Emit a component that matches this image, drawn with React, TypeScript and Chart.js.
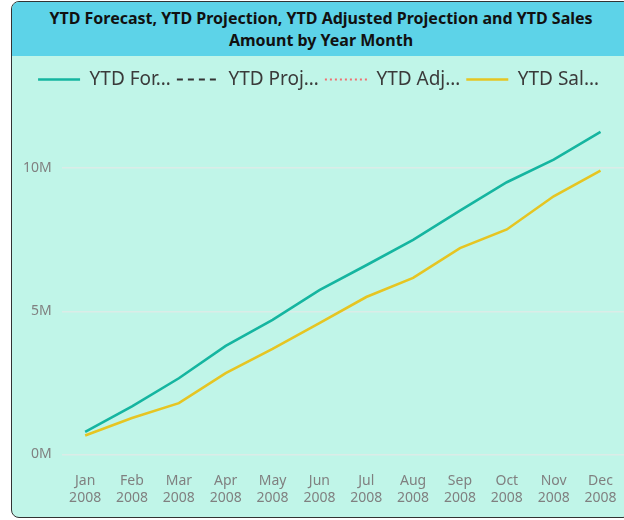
import React, { useEffect, useRef } from "react";
import { Chart, registerables } from "chart.js";

Chart.register(...registerables);

const months = ["Jan", "Feb", "Mar", "Apr", "May", "Jun", "Jul", "Aug", "Sep", "Oct", "Nov", "Dec"];
const year = "2008";
const ytdForecast = [0.79, 1.68, 2.66, 3.79, 4.7, 5.74, 6.61, 7.5, 8.52, 9.51, 10.3, 11.27];
const ytdProjection: (number | null)[] = [null, null, null, null, null, null, null, null, null, null, null, null];
const ytdAdjusted: (number | null)[] = [null, null, null, null, null, null, null, null, null, null, null, null];
const ytdSales = [0.66, 1.27, 1.79, 2.84, 3.69, 4.59, 5.5, 6.17, 7.21, 7.86, 9.02, 9.92];
const seriesNames = ["YTD Forecast", "YTD Projection", "YTD Adjusted Projection", "YTD Sales Amount"];
const legendLabels = ["YTD For…", "YTD Proj…", "YTD Adj…", "YTD Sal…"];
const yTicks = [0, 5, 10];

const FONT = "'Segoe UI', 'Noto Sans', 'Open Sans', sans-serif";

const legendMargin = {
  id: "legendMargin",
  beforeInit(chart: any) {
    const orig = chart.legend.fit;
    chart.legend.fit = function fit() {
      orig.bind(chart.legend)();
      this.height += 12;
    };
  },
};

export default function App() {
  const ref = useRef<HTMLCanvasElement | null>(null);
  useEffect(() => {
    if (!ref.current) return;
    const colors = ["#15b5a0", "#333333", "#f07070", "#e6c522"];
    const dashes = [[], [6, 5], [2, 3], []];
    const widths = [2.6, 2, 2, 2.6];
    const datas = [ytdForecast, ytdProjection, ytdAdjusted, ytdSales];
    const chart = new Chart(ref.current, {
      type: "line",
      data: {
        labels: months.map((m) => [m, year]),
        datasets: datas.map((d, i) => ({
          label: seriesNames[i],
          data: d,
          borderColor: colors[i],
          backgroundColor: colors[i],
          borderDash: dashes[i],
          borderWidth: widths[i],
          pointRadius: 0,
          tension: 0,
          spanGaps: false,
        })),
      },
      plugins: [legendMargin],
      options: {
        animation: false,
        responsive: true,
        maintainAspectRatio: false,
        layout: { padding: { left: 1, right: 11, top: 8, bottom: -8 } },
        plugins: {
          tooltip: { enabled: false },
          legend: {
            display: true,
            position: "top",
            labels: {
              usePointStyle: true,
              pointStyle: "line",
              pointStyleWidth: 42,
              boxHeight: 18,
              padding: 6,
              color: "#3a3a3a",
              font: { size: 19, family: FONT },
              generateLabels: (chart: any) =>
                chart.data.datasets.map((ds: any, i: number) => ({
                  text: legendLabels[i],
                  strokeStyle: ds.borderColor,
                  fillStyle: ds.borderColor,
                  lineWidth: ds.borderWidth,
                  lineDash: ds.borderDash,
                  pointStyle: "line",
                  hidden: false,
                  datasetIndex: i,
                  fontColor: "#3a3a3a",
                })),
            },
          },
        },
        scales: {
          x: {
            offset: true,
            grid: { display: false, drawTicks: false },
            border: { display: false },
            ticks: {
              color: "#808080",
              font: { size: 14, family: FONT },
              padding: 18,
              maxRotation: 0,
              autoSkip: false,
            },
          },
          y: {
            min: 0,
            max: 12,
            grid: { color: "#dbece7", lineWidth: 1.5, drawTicks: false },
            border: { display: false },
            afterBuildTicks: (scale: any) => {
              scale.ticks = yTicks.map((v) => ({ value: v }));
            },
            ticks: {
              color: "#808080",
              font: { size: 14, family: FONT },
              padding: 10,
              callback: (v: any) => `${v}M`,
            },
          },
        },
      },
    });
    return () => chart.destroy();
  }, []);

  return (
    <div style={{ position: "fixed", inset: 0, overflow: "hidden", background: "#ffffff" }}>
      <div
        style={{
          position: "absolute",
          left: 11,
          top: 1,
          width: 620,
          height: 517,
          boxSizing: "border-box",
          border: "1.5px solid #333",
          borderRadius: 8,
          overflow: "hidden",
          background: "#c0f5e8",
        }}
      >
        <div
          style={{
            height: 54,
            background: "#5dd3e8",
            display: "flex",
            alignItems: "center",
            justifyContent: "center",
            textAlign: "center",
            fontFamily: FONT,
            fontWeight: 700,
            fontSize: 16,
            lineHeight: "22px",
            color: "#111",
          }}
        >
          <div>
            YTD Forecast, YTD Projection, YTD Adjusted Projection and YTD Sales
            <br />
            Amount by Year Month
          </div>
        </div>
        <div style={{ position: "relative", height: 460, width: 623 }}>
          <canvas ref={ref} />
        </div>
      </div>
    </div>
  );
}
